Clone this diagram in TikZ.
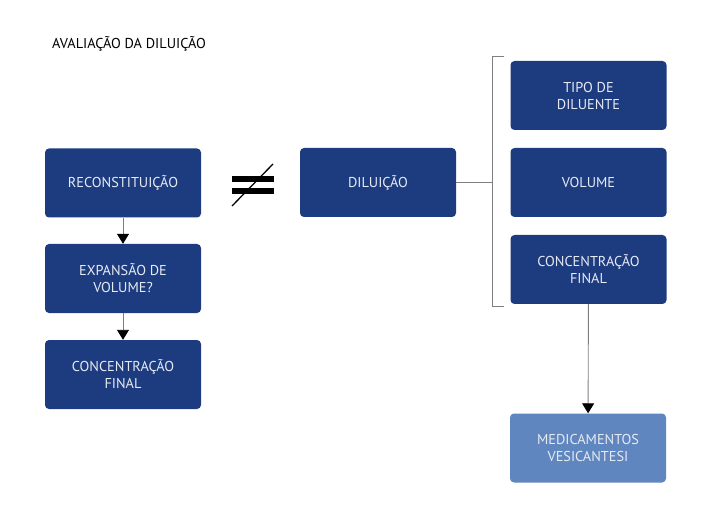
\documentclass[tikz,border=0pt]{standalone}
\usepackage{fontspec}
\setmainfont{PT Sans}
\usetikzlibrary{arrows.meta}
\definecolor{dblue}{HTML}{1D3C7F}
\definecolor{lblue}{HTML}{5F86BE}
\definecolor{btext}{HTML}{E6EAF3}
\definecolor{lgray}{HTML}{7F7F7F}
\tikzset{
  box/.style={fill=dblue, rounded corners=4pt, minimum width=156pt, minimum height=69pt,
    text=btext, align=center, font=\fontsize{14.3}{17}\selectfont, inner sep=0pt},
  lbox/.style={box, fill=lblue},
  conn/.style={draw=lgray, line width=0.9pt},
  arr/.style={conn, -{Triangle[width=12pt,length=10pt,color=black]}}
}
\begin{document}
\begin{tikzpicture}[x=1pt,y=-1pt]
\useasboundingbox (0,0) rectangle (714,526);
\node[anchor=base west, font=\fontsize{14.3}{16}\selectfont, inner sep=0pt] (title) at (52,48.5) {AVALIAÇÃO DA DILUIÇÃO};
\node[box] (recon) at (123,183) {RECONSTITUIÇÃO};
\node[box] (expan) at (123,278.5) {EXPANSÃO DE\\VOLUME?};
\node[box] (concL) at (123,374.5) {CONCENTRAÇÃO\\FINAL};
\node[box] (dil) at (378,182.5) {DILUIÇÃO};
\node[box] (tipo) at (588.5,95.5) {TIPO DE\\DILUENTE};
\node[box] (vol) at (588.5,182.5) {VOLUME};
\node[box] (concR) at (588.5,269.5) {CONCENTRAÇÃO\\FINAL};
\node[lbox] (med) at (588,448) {MEDICAMENTOS\\VESICANTESI};
\draw[arr] (recon) -- (expan);
\draw[arr] (expan) -- (concL);
\draw[arr] (concR) -- (med);
\coordinate (bx) at (492,182.5);
\draw[conn] (dil.east) -- (bx);
\draw[conn] (504,56) -- (492,56) -- (492,306) -- (504,306);
% not-equal sign
\coordinate (ne1) at (232,179);
\coordinate (ne2) at (274,179);
\coordinate (ne3) at (232,191);
\coordinate (ne4) at (274,191);
\draw[line width=5.5pt] (ne1) -- (ne2);
\draw[line width=5.5pt] (ne3) -- (ne4);
\coordinate (s1) at (232,206);
\coordinate (s2) at (273,164);
\draw[line width=1.3pt] (s1) -- (s2);
\end{tikzpicture}
\end{document}
